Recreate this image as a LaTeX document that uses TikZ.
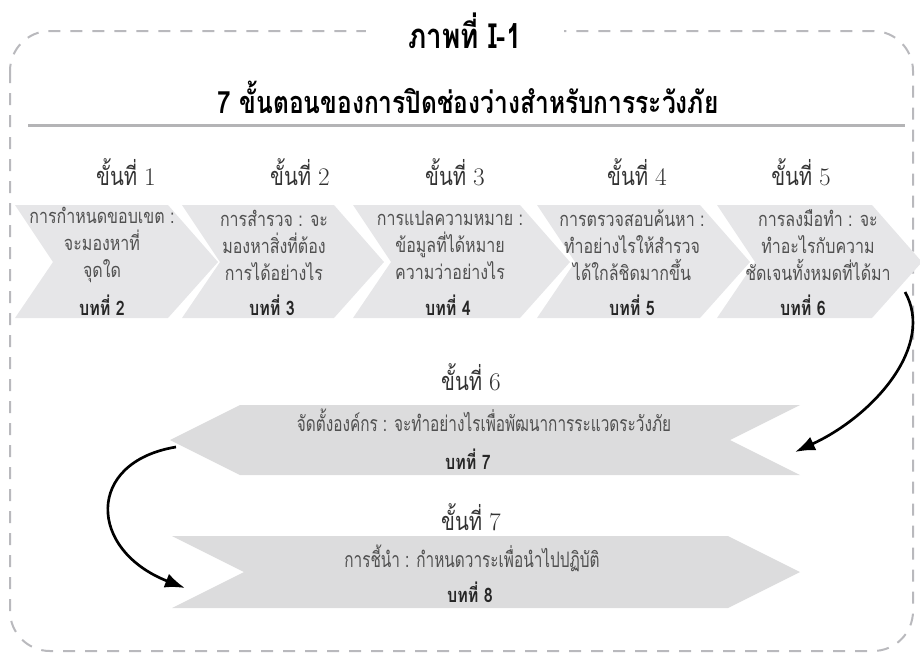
\documentclass[tikz,border=0pt]{standalone}
\usepackage{fontspec}
\newfontfamily\thai[Script=Thai]{Loma}
\newfontfamily\thaicond[Script=Thai,FakeStretch=0.8]{Loma}
\newfontfamily\thainarrow[Script=Thai,FakeStretch=0.72]{Loma}
\usetikzlibrary{arrows.meta}

\definecolor{chevgray}{HTML}{E6E6E8}
\definecolor{chevdark}{HTML}{DCDCDD}
\definecolor{framegray}{HTML}{B9B9BD}
\definecolor{rulegray}{HTML}{B4B4B6}
\definecolor{textgray}{HTML}{505050}

\begin{document}
\begin{tikzpicture}[x=0.75pt, y=-0.75pt,
  frame/.style={draw=framegray, line width=1.5pt, dash pattern=on 9pt off 7.5pt, rounded corners=30pt},
  chev/.style={fill=chevgray},
  chevlow/.style={fill=chevdark},
  steplabel/.style={font=\thaicond\fontsize{19}{21}\selectfont, text=black!80},
  desc/.style={align=center, font=\thaicond\fontsize{15}{20.25}\selectfont, text=textgray, inner sep=0pt},
  desclow/.style={font=\thainarrow\fontsize{16}{18}\selectfont, text=textgray, inner sep=0pt},
  chapter/.style={font=\thaicond\bfseries\fontsize{15}{17}\selectfont, text=black!85, inner sep=0pt},
  arrow/.style={-{Latex[length=15pt, width=11pt]}, line width=2pt}
]
\useasboundingbox (0,0) rectangle (920,654);
\draw[frame] (10,31) rectangle (913,651);
\node[fill=white, minimum width=148pt, inner ysep=1pt, font=\thaicond\bfseries\fontsize{26}{28}\selectfont] (fig) at (465,31) {ภาพที่ I-1};
\node[font=\thaicond\bfseries\fontsize{23}{26}\selectfont] (title) at (468,97) {7 ขั้นตอนของการปิดช่องว่างสำหรับการระวังภัย};
\draw[rulegray, line width=2.25pt] (28,125) -- (905,125);

\fill[chev] (15,205) -- (168,205) -- (218,262) -- (168,318) -- (15,318) -- (53,262) -- cycle;
\fill[chev] (182,205) -- (334,205) -- (384,262) -- (334,318) -- (182,318) -- (220,262) -- cycle;
\fill[chev] (353,205) -- (520,205) -- (570,262) -- (520,318) -- (353,318) -- (391,262) -- cycle;
\fill[chev] (537,205) -- (700,205) -- (750,262) -- (700,318) -- (537,318) -- (575,262) -- cycle;
\fill[chev] (717,205) -- (872,205) -- (922,262) -- (872,318) -- (717,318) -- (755,262) -- cycle;
\fill[chevlow] (240,405) -- (800,405) -- (730,440) -- (800,475) -- (240,475) -- (170,440) -- cycle;
\fill[chevlow] (172,536) -- (728,536) -- (800,572) -- (728,608) -- (172,608) -- (244,572) -- cycle;

\node[steplabel] (lbl1) at (126,172) {ขั้นที่ {\rmfamily 1}};
\node[steplabel] (lbl2) at (300,172) {ขั้นที่ {\rmfamily 2}};
\node[steplabel] (lbl3) at (455,172) {ขั้นที่ {\rmfamily 3}};
\node[steplabel] (lbl4) at (637,172) {ขั้นที่ {\rmfamily 4}};
\node[steplabel] (lbl5) at (801,172) {ขั้นที่ {\rmfamily 5}};
\node[steplabel] (lbl6) at (471,377) {ขั้นที่ {\rmfamily 6}};
\node[steplabel] (lbl7) at (471,517) {ขั้นที่ {\rmfamily 7}};

\node[desc] (s1) at (102,245) {การกำหนดขอบเขต :\\จะมองหาที่\\จุดใด};
\node[desc] (s2) at (274,245) {การสำรวจ : จะ\\มองหาสิ่งที่ต้อง\\การได้อย่างไร};
\node[desc] (s3) at (450,245) {การแปลความหมาย :\\ข้อมูลที่ได้หมาย\\ความว่าอย่างไร};
\node[desc] (s4) at (632,245) {การตรวจสอบค้นหา :\\ทำอย่างไรให้สำรวจ\\ได้ใกล้ชิดมากขึ้น};
\node[desc] (s5) at (818,245) {การลงมือทำ : จะ\\ทำอะไรกับความ\\ชัดเจนทั้งหมดที่ได้มา};
\node[desclow] (s6) at (484,420) {จัดตั้งองค์กร : จะทำอย่างไรเพื่อพัฒนาการระแวดระวังภัย};
\node[desclow] (s7) at (472,558) {การชี้นำ : กำหนดวาระเพื่อนำไปปฏิบัติ};

\node[chapter] (ch1) at (102,305) {บทที่ 2};
\node[chapter] (ch2) at (272,305) {บทที่ 3};
\node[chapter] (ch3) at (448,305) {บทที่ 4};
\node[chapter] (ch4) at (632,305) {บทที่ 5};
\node[chapter] (ch5) at (803,305) {บทที่ 6};
\node[chapter] (ch6) at (468,459) {บทที่ 7};
\node[chapter] (ch7) at (470,592) {บทที่ 8};

\coordinate (c5out) at (905,292);
\coordinate (c6in) at (795,452);
\coordinate (c6out) at (176,447);
\coordinate (c7in) at (185,588);
\draw[arrow] (c5out) .. controls (935,345) and (875,415) .. (c6in);
\draw[arrow] (c6out) .. controls (85,462) and (88,550) .. (c7in);
\end{tikzpicture}
\end{document}
